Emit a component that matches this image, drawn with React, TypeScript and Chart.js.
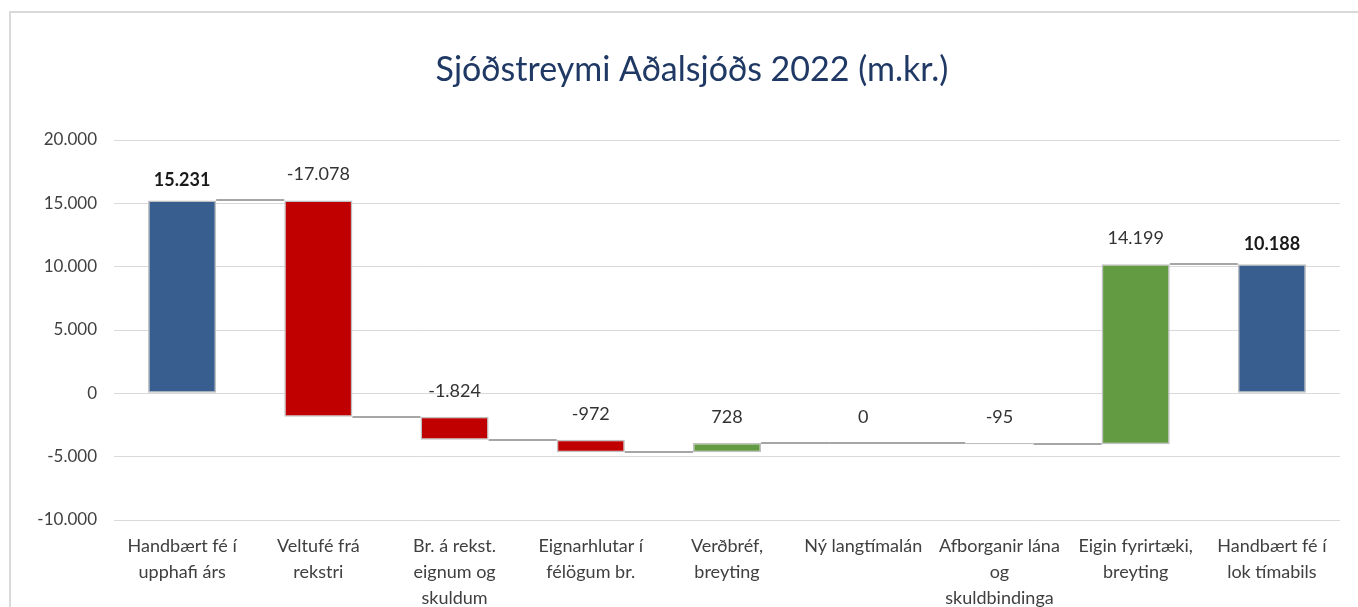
import React, { useEffect, useRef } from "react";
import { Chart, registerables } from "chart.js";

Chart.register(...registerables);

const titleText = "Sjóðstreymi Aðalsjóðs 2022 (m.kr.)";
const categories: string[][] = [
  ["Handbært fé í", "upphafi árs"],
  ["Veltufé frá", "rekstri"],
  ["Br. á rekst.", "eignum og", "skuldum"],
  ["Eignarhlutar í", "félögum br."],
  ["Verðbréf,", "breyting"],
  ["Ný langtímalán"],
  ["Afborganir lána", "og", "skuldbindinga"],
  ["Eigin fyrirtæki,", "breyting"],
  ["Handbært fé í", "lok tímabils"],
];
const changes: number[] = [15231, -17078, -1824, -972, 728, 0, -95, 14199, 10188];
const isTotal: boolean[] = [true, false, false, false, false, false, false, false, true];
const valueLabels: string[] = ["15.231", "-17.078", "-1.824", "-972", "728", "0", "-95", "14.199", "10.188"];
const yTickLabels: Record<number, string> = {
  20000: "20.000",
  15000: "15.000",
  10000: "10.000",
  5000: "5.000",
  0: "0",
  "-5000": "-5.000",
  "-10000": "-10.000",
};

const BLUE = "#375E8F";
const RED = "#C00000";
const GREEN = "#629B41";
const FONT = "Lato, 'Open Sans', sans-serif";

function buildRanges() {
  const ranges: [number, number][] = [];
  const ends: number[] = [];
  let run = 0;
  changes.forEach((c, i) => {
    if (isTotal[i]) {
      ranges.push([0, c]);
      run = c;
    } else {
      ranges.push([run, run + c]);
      run = run + c;
    }
    ends.push(run);
  });
  return { ranges, ends };
}

export default function App() {
  const ref = useRef<HTMLCanvasElement | null>(null);
  useEffect(() => {
    if (!ref.current) return;
    const { ranges, ends } = buildRanges();
    const colors = changes.map((c, i) => (isTotal[i] ? BLUE : c < 0 ? RED : GREEN));

    const connectorPlugin = {
      id: "connectors",
      beforeDatasetsDraw(chart: any) {
        const meta = chart.getDatasetMeta(0);
        const ys = chart.scales.y;
        const ctx = chart.ctx;
        ctx.save();
        ctx.strokeStyle = "#A6A6A6";
        ctx.lineWidth = 2;
        for (let i = 0; i < meta.data.length - 1; i++) {
          const a = meta.data[i];
          const b = meta.data[i + 1];
          const y = Math.round(ys.getPixelForValue(ends[i]));
          const flat = changes[i] === 0 && !isTotal[i];
          ctx.beginPath();
          ctx.moveTo(flat ? a.x - a.width / 2 : a.x + a.width / 2, y);
          ctx.lineTo(b.x - b.width / 2, y);
          ctx.stroke();
        }
        ctx.restore();
      },
    };

    const labelPlugin = {
      id: "valueLabels",
      afterDatasetsDraw(chart: any) {
        const meta = chart.getDatasetMeta(0);
        const ctx = chart.ctx;
        ctx.save();
        ctx.textAlign = "center";
        ctx.textBaseline = "middle";
        meta.data.forEach((el: any, i: number) => {
          const top = Math.min(el.y, el.base);
          const bold = isTotal[i];
          ctx.font = `${bold ? "bold " : ""}18px ${FONT}`;
          ctx.fillStyle = bold ? "#1a1a1a" : "#333333";
          ctx.fillText(valueLabels[i], el.x, top - (bold ? 20 : 26));
        });
        ctx.font = `34px ${FONT}`;
        ctx.fillStyle = "#1F3864";
        ctx.fillText(titleText, 692, 70);
        ctx.restore();
      },
    };

    const chart = new Chart(ref.current, {
      type: "bar",
      data: {
        labels: categories,
        datasets: [
          {
            data: ranges as any,
            backgroundColor: colors,
            borderColor: "#BFBFBF",
            borderWidth: 1.5,
            borderSkipped: false,
            barPercentage: 0.5,
            categoryPercentage: 1,
          },
        ],
      },
      options: {
        responsive: false,
        animation: false,
        devicePixelRatio: 1,
        layout: { padding: { left: 10, right: 18, top: 140, bottom: 0 } },
        plugins: {
          legend: { display: false },
          tooltip: { enabled: false },
          title: { display: false },
        },
        scales: {
          x: {
            grid: { display: false, drawTicks: false },
            border: { display: false },
            ticks: {
              color: "#404040",
              font: { family: FONT, size: 18, lineHeight: 1.44 },
              padding: 13,
              maxRotation: 0,
              autoSkip: false,
            },
            afterFit: (s: any) => {
              s.height = 87;
            },
          },
          y: {
            min: -10000,
            max: 20000,
            grid: { color: "#D9D9D9", lineWidth: 1, drawTicks: false },
            border: { display: false },
            ticks: {
              stepSize: 5000,
              color: "#404040",
              font: { family: FONT, size: 17 },
              padding: 17,
              callback: (v: any) => yTickLabels[v as number] ?? String(v),
            },
            afterFit: (s: any) => {
              s.width = 104;
            },
          },
        },
      },
      plugins: [connectorPlugin, labelPlugin],
    });
    return () => chart.destroy();
  }, []);

  return (
    <div style={{ position: "fixed", left: 0, top: 0, width: 1358, height: 607, overflow: "hidden", background: "#fff" }}>
      <div
        style={{
          position: "absolute",
          left: 9,
          top: 11,
          width: 1400,
          height: 700,
          border: "2px solid #D9D9D9",
          boxSizing: "border-box",
        }}
      />
      <canvas ref={ref} width={1358} height={607} style={{ position: "absolute", left: 0, top: 0, display: "block" }} />
    </div>
  );
}
